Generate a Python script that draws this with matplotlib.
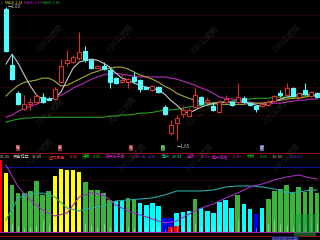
import numpy as np
import matplotlib
matplotlib.use('Agg')
import matplotlib.pyplot as plt
from matplotlib.patches import Rectangle
from matplotlib.lines import Line2D

plt.rcParams['font.family'] = ['Noto Sans CJK SC', 'DejaVu Sans']

# ---- K-line data (price) ----
opens = [1.994, 1.847, 1.773, 1.731, 1.744, 1.750, 1.763, 1.758, 1.758, 1.802,
         1.852, 1.855, 1.865, 1.884, 1.860, 1.839, 1.844, 1.834, 1.813, 1.802,
         1.802, 1.816, 1.808, 1.789, 1.781, 1.789, 1.737, 1.668, 1.695, 1.718,
         1.713, 1.737, 1.763, 1.750, 1.739, 1.723, 1.750, 1.750, 1.750, 1.760,
         1.747, 1.739, 1.739, 1.742, 1.752, 1.773, 1.768, 1.787, 1.763, 1.781,
         1.766, 1.773]
closes = [1.884, 1.810, 1.744, 1.744, 1.750, 1.766, 1.750, 1.755, 1.784, 1.844,
          1.860, 1.868, 1.881, 1.860, 1.839, 1.844, 1.837, 1.802, 1.800, 1.808,
          1.810, 1.805, 1.784, 1.784, 1.792, 1.776, 1.718, 1.689, 1.708, 1.729,
          1.729, 1.768, 1.744, 1.755, 1.729, 1.750, 1.758, 1.742, 1.763, 1.750,
          1.742, 1.731, 1.744, 1.750, 1.766, 1.768, 1.787, 1.766, 1.773, 1.771,
          1.776, 1.763]
highs = [2.000, 1.873, 1.779, 1.768, 1.760, 1.771, 1.773, 1.763, 1.789, 1.863,
         1.887, 1.873, 1.934, 1.897, 1.863, 1.847, 1.855, 1.839, 1.816, 1.821,
         1.813, 1.829, 1.810, 1.792, 1.795, 1.792, 1.742, 1.702, 1.716, 1.739,
         1.734, 1.787, 1.766, 1.763, 1.750, 1.755, 1.768, 1.752, 1.800, 1.766,
         1.750, 1.742, 1.747, 1.755, 1.768, 1.781, 1.800, 1.789, 1.776, 1.800,
         1.779, 1.776]
lows = [1.881, 1.808, 1.742, 1.729, 1.729, 1.750, 1.747, 1.755, 1.755, 1.802,
        1.844, 1.852, 1.860, 1.855, 1.837, 1.839, 1.834, 1.787, 1.797, 1.800,
        1.787, 1.800, 1.776, 1.784, 1.779, 1.773, 1.716, 1.663, 1.650, 1.710,
        1.713, 1.734, 1.742, 1.747, 1.726, 1.721, 1.747, 1.739, 1.747, 1.747,
        1.739, 1.723, 1.737, 1.739, 1.750, 1.763, 1.766, 1.763, 1.760, 1.768,
        1.763, 1.760]

ma5 = [1.850, 1.876, 1.852, 1.821, 1.792, 1.768, 1.758, 1.758, 1.760, 1.776,
       1.808, 1.839, 1.855, 1.860, 1.863, 1.860, 1.852, 1.842, 1.826, 1.813,
       1.808, 1.800, 1.794, 1.789, 1.787, 1.781, 1.771, 1.755, 1.742, 1.726,
       1.721, 1.729, 1.737, 1.742, 1.747, 1.750, 1.750, 1.750, 1.750, 1.750,
       1.747, 1.742, 1.739, 1.747, 1.752, 1.758, 1.763, 1.766, 1.771, 1.771,
       1.768, 1.768]
ma10 = [1.766, 1.781, 1.794, 1.802, 1.805, 1.808, 1.813, 1.813, 1.805, 1.792,
        1.794, 1.802, 1.810, 1.818, 1.826, 1.831, 1.837, 1.839, 1.842, 1.842,
        1.837, 1.829, 1.821, 1.816, 1.810, 1.802, 1.792, 1.784, 1.773, 1.766,
        1.760, 1.755, 1.750, 1.747, 1.747, 1.744, 1.744, 1.744, 1.744, 1.744,
        1.747, 1.747, 1.747, 1.750, 1.752, 1.755, 1.758, 1.760, 1.760, 1.763,
        1.766, 1.766]
ma30 = [1.710, 1.716, 1.726, 1.734, 1.739, 1.744, 1.752, 1.758, 1.760, 1.768,
        1.776, 1.787, 1.794, 1.802, 1.810, 1.816, 1.821, 1.826, 1.826, 1.823,
        1.821, 1.818, 1.816, 1.816, 1.816, 1.816, 1.816, 1.813, 1.810, 1.805,
        1.800, 1.794, 1.787, 1.781, 1.773, 1.763, 1.760, 1.758, 1.755, 1.752,
        1.750, 1.747, 1.747, 1.747, 1.747, 1.747, 1.750, 1.752, 1.755, 1.755,
        1.758, 1.758]
ma60 = [1.697, 1.702, 1.705, 1.708, 1.708, 1.710, 1.710, 1.710, 1.710, 1.710,
        1.710, 1.710, 1.710, 1.710, 1.710, 1.710, 1.710, 1.713, 1.713, 1.716,
        1.716, 1.718, 1.721, 1.721, 1.723, 1.726, 1.729, 1.729, 1.731, 1.734,
        1.737, 1.739, 1.742, 1.742, 1.744, 1.747, 1.750, 1.752, 1.755, 1.755,
        1.758, 1.760, 1.760, 1.760, 1.763, 1.763, 1.763, 1.763, 1.766, 1.766,
        1.768, 1.768]
grid_prices = [1.979, 1.921, 1.860, 1.789, 1.716]

# ---- lower indicator ----
bar_idx = list(range(-1, 52))
bar_vals = [111, 91, 72, 60, 60, 63, 78, 57, 63, 86, 97, 95, 95, 92, 77, 65, 65, 60,
            49, 48, 48, 52, 51, 45, 42, 45, 40, 22, 22, 29, 31, 32, 51, 37, 32, 29,
            46, 49, 37, 57, 43, 35, 28, 37, 51, 63, 66, 72, 60, 69, 62, 69, 60]
bar_kind = list('ryggggggg' 'yyyyy' 'gggg' 'g' 'cc' 'gg' 'cccc' 'bb' 'ccc' 'g'
                'ccccc' 'c' 'g' 'cc' 'b' 'c' 'ggggggggg')
red_idx = [27, 28]
red_vals = [8, 9]
vol_vals = [14, 12, 9, 6, 8, 9, 18, 11, 11, 8, 6, 6, 9, 14, 11, 8, 13, 7, 9, 12,
            8, 6, 10, 8, 6, 9, 5, 6, 10, 7, 8, 12, 9, 6, 7, 11, 9, 8, 18, 10,
            8, 6, 9, 14, 20, 12, 10, 8, 12, 9, 26, 14]
line_idx = [0, 2, 4, 6, 8, 10, 12, 14, 16, 18, 20, 22, 24, 26, 28, 30, 32, 34,
            36, 38, 40, 42, 44, 46, 48, 50, 51]
teal_vals = [18.5, 52.3, 58.5, 60, 53.8, 36.9, 32.3, 36.9, 40, 47.7, 49.2, 50.8,
             52.3, 56.9, 63.1, 63.1, 63.1, 64.6, 69.2, 70.8, 70.8, 69.2, 66.2,
             60, 61.5, 64.6, 64.6]
purple_vals = [103, 69.2, 49.2, 33.8, 24.6, 29.2, 53.8, 60, 56.9, 41.5, 32.3,
               26.2, 20, 13.8, 16.9, 27.7, 36.9, 43.1, 52.3, 60, 69.2, 73.8, 80,
               84.6, 87.7, 83.1, 81.5]

RED = '#d83030'
CYAN = '#54fcfc'
kind_col = {'r': '#ff0000', 'y': '#ffff00', 'g': '#3cb43c', 'c': '#00ffff', 'b': '#0000ff'}

W, H = 320, 240


def fx(x):
    return x / W


def fy(y):
    return 1 - y / H


fig = plt.figure(figsize=(3.2, 2.4), dpi=100, facecolor='black')
ax = fig.add_axes([0, 1 - 142 / H, 1, 142 / H])
ax2 = fig.add_axes([0, 0, 1, 82 / H])
for a in (ax, ax2):
    a.set_axis_off()
    a.set_xlim(-0.984, 51.48)
ax.set_ylim(1.645, 2.0184)
ax2.set_ylim(-12.3, 113.8)

# main panel
for p in grid_prices:
    ax.axhline(p, color='#7a1010', lw=0.6, ls=(0, (1, 2)), zorder=1)

for i in range(len(opens)):
    o, c, h, l = opens[i], closes[i], highs[i], lows[i]
    up = c >= o
    col = RED if up else CYAN
    ax.vlines(i, l, h, color=col, lw=0.8, zorder=3)
    ax.add_patch(Rectangle((i - 0.33, min(o, c)), 0.66, max(abs(c - o), 0.0015),
                           facecolor='black' if up else col, edgecolor=col,
                           lw=0.8, zorder=4))

xs = np.arange(len(ma5))
ax.plot(xs, ma60, color='#22a022', lw=0.8, zorder=2)
ax.plot(xs, ma30, color='#b82cb8', lw=0.8, zorder=2)
ax.plot(xs, ma10, color='#a8a830', lw=0.8, zorder=2)
ax.plot(xs, ma5, color='#c8c8c8', lw=0.8, zorder=2)

ax.text(0.35, 2.000, '←2.00', color='#c8c8c8', fontsize=3.2, va='center', zorder=5)

# legend row
fig.text(fx(1), fy(3), '/', color='#e0e020', fontsize=2.5, va='center')
fig.text(fx(5), fy(3), 'MA10: 2.14', color='#e0e020', fontsize=2.5, va='center')
fig.text(fx(23.5), fy(3), 'MA30: 2.09', color='#d020d0', fontsize=2.5, va='center')
fig.text(fx(42), fy(3), 'MA60: 2.18', color='#20c020', fontsize=2.5, va='center')

fig.text(fx(177), fy(146), '←1.65', color='#c8c8c8', fontsize=3.2, va='center')

# separator and header row
fig.add_artist(Line2D([0, 1], [fy(153), fy(153)], color='#901818', lw=0.7))
badges = [(18, '稳', '#a03030'), (60, '康', '#a03030'), (131, '增', '#a03030'),
          (163, '权', '#2e9a2e'), (262, '时', '#5070a0')]
for x, t, c in badges:
    fig.text(fx(x), fy(148), t, color='#f0d0d0', fontsize=2.6, ha='center', va='center',
             bbox=dict(facecolor=c, edgecolor='none', pad=0.4))

header = [(0, '90.26', '#c8c8c8'), (13, '资金博弈', '#c8c8c8'), (32, '19.60', '#c8c8c8'),
          (49, '主力资金', '#ff3030'), (70, '0.00', '#ff3030'), (82, '决策', '#20d020'),
          (93, '0.00', '#20d020'), (105, '游资份子本', '#d020d0'), (132, '0.00', '#d020d0'),
          (142, 'SL', '#4848ff'), (148, '1.00', '#4848ff'), (162, '散户', '#20c0b0'),
          (172, '28.84', '#20c0b0'), (187, '庄家', '#d020d0'), (200, '78.39', '#d020d0'),
          (212, '散户犯错', '#d020d0'), (232, '-0.30', '#d020d0'), (247, '机构', '#20c020'),
          (260, '0.05', '#20c020'), (270, ': 10.00', '#c8c8c8'), (287, ': 150.00', '#4848ff')]
for x, t, c in header:
    fig.text(fx(x), fy(156.5), t, color=c, fontsize=3.0, va='center')

# lower panel
ax2.axhline(100, color='#1010a0', lw=0.7, zorder=1)
ax2.axhline(80, color='#7a1010', lw=0.6, ls=(0, (1, 2)), zorder=1)
ax2.bar(bar_idx, bar_vals, width=0.75, color=[kind_col[k] for k in bar_kind], zorder=2)
ax2.bar(red_idx, red_vals, width=0.75, color='#ff0000', zorder=3)
ax2.vlines(np.arange(len(vol_vals)), 0, vol_vals, color='white', alpha=0.4, lw=0.7, zorder=4)
ax2.plot(line_idx, teal_vals, color='#2aa6a6', lw=0.8, zorder=5)
ax2.plot(line_idx, purple_vals, color='#a030c0', lw=0.8, zorder=5)
ax2.axhline(0, color='#a020a0', lw=0.8, zorder=5)
ax2.axhline(-6.2, color='#a01010', lw=0.8, zorder=5)

# watermarks
for x, y in [(50, 38), (120, 38), (205, 40), (287, 38), (50, 112), (123, 110),
             (200, 113), (277, 110), (40, 152), (133, 157), (200, 157), (287, 157)]:
    fig.text(fx(x), fy(y), '川川公式网', color='#808080', alpha=0.28, fontsize=5,
             rotation=45, ha='center', va='center')

fig.add_artist(Rectangle((fx(294), fy(236)), 22 / W, 22 / H, transform=fig.transFigure,
                         facecolor='#20a040', alpha=0.55, edgecolor='none'))
fig.text(fx(272), fy(238.5), '2024/04/02/二', color='#8080ff', fontsize=2.8, va='center',
         bbox=dict(facecolor='#202060', edgecolor='none', pad=0.3))

fig.savefig('out.png', dpi=100, facecolor='black')
